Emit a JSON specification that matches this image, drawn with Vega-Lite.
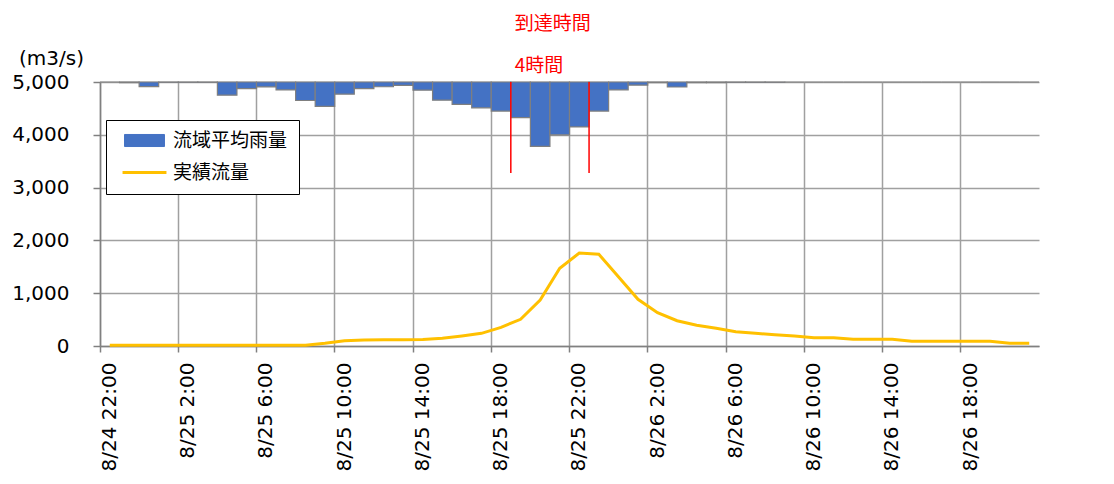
{
  "$schema": "https://vega.github.io/schema/vega-lite/v6.json",
  "width": 939,
  "height": 264,
  "autosize": "none",
  "padding": {"left": 100, "top": 82, "right": 75, "bottom": 138},
  "background": "white",
  "config": {
    "view": {"stroke": null},
    "font": "DejaVu Sans",
    "axis": {"labelFont": "DejaVu Sans", "titleFont": "DejaVu Sans", "labelColor": "#000000", "titleColor": "#000000"},
    "legend": {
      "orient": "none", "legendX": 6, "legendY": 38,
      "padding": 11,
      "fillColor": "white", "strokeColor": "black",
      "labelFont": "Noto Sans CJK JP", "labelFontSize": 19, "labelColor": "#000000",
      "symbolSize": 324, "symbolOffset": 18, "labelOffset": 19,
      "rowPadding": 12,
      "symbolOpacity": 1,
      "symbolType": {"expr": "datum.value === '実績流量' ? 'M-2.44,0H2.44' : 'M-2.22,-0.67H2.22V0.67H-2.22Z'"},
      "symbolStrokeWidth": {"expr": "datum.value === '実績流量' ? 3 : 1"}
    }
  },
  "datasets": {
    "hourly": [
      {"time": "8/24 22:00", "rain": 0, "flow": 15},
      {"time": "8/24 23:00", "rain": 0.5, "flow": 15},
      {"time": "8/25 0:00", "rain": 3.5, "flow": 15},
      {"time": "8/25 1:00", "rain": 0.2, "flow": 15},
      {"time": "8/25 2:00", "rain": 0.2, "flow": 15},
      {"time": "8/25 3:00", "rain": 0.2, "flow": 15},
      {"time": "8/25 4:00", "rain": 10, "flow": 15},
      {"time": "8/25 5:00", "rain": 5, "flow": 15},
      {"time": "8/25 6:00", "rain": 3.7, "flow": 15},
      {"time": "8/25 7:00", "rain": 6, "flow": 15},
      {"time": "8/25 8:00", "rain": 14, "flow": 15},
      {"time": "8/25 9:00", "rain": 18.4, "flow": 53},
      {"time": "8/25 10:00", "rain": 9.2, "flow": 100},
      {"time": "8/25 11:00", "rain": 5, "flow": 114},
      {"time": "8/25 12:00", "rain": 3.6, "flow": 120},
      {"time": "8/25 13:00", "rain": 2.6, "flow": 120},
      {"time": "8/25 14:00", "rain": 6.2, "flow": 125},
      {"time": "8/25 15:00", "rain": 13.8, "flow": 146},
      {"time": "8/25 16:00", "rain": 17, "flow": 189},
      {"time": "8/25 17:00", "rain": 19.6, "flow": 240},
      {"time": "8/25 18:00", "rain": 22, "flow": 354},
      {"time": "8/25 19:00", "rain": 27, "flow": 506},
      {"time": "8/25 20:00", "rain": 48.8, "flow": 871},
      {"time": "8/25 21:00", "rain": 40, "flow": 1472},
      {"time": "8/25 22:00", "rain": 34, "flow": 1761},
      {"time": "8/25 23:00", "rain": 22, "flow": 1737},
      {"time": "8/26 0:00", "rain": 6, "flow": 1312},
      {"time": "8/26 1:00", "rain": 2.4, "flow": 884},
      {"time": "8/26 2:00", "rain": 0.5, "flow": 631},
      {"time": "8/26 3:00", "rain": 3.8, "flow": 479},
      {"time": "8/26 4:00", "rain": 0.5, "flow": 392},
      {"time": "8/26 5:00", "rain": 0.5, "flow": 335},
      {"time": "8/26 6:00", "rain": 0.2, "flow": 271},
      {"time": "8/26 7:00", "rain": 0.2, "flow": 240},
      {"time": "8/26 8:00", "rain": 0.2, "flow": 214},
      {"time": "8/26 9:00", "rain": 0, "flow": 189},
      {"time": "8/26 10:00", "rain": 0, "flow": 157},
      {"time": "8/26 11:00", "rain": 0, "flow": 157},
      {"time": "8/26 12:00", "rain": 0, "flow": 127},
      {"time": "8/26 13:00", "rain": 0, "flow": 127},
      {"time": "8/26 14:00", "rain": 0, "flow": 127},
      {"time": "8/26 15:00", "rain": 0, "flow": 89},
      {"time": "8/26 16:00", "rain": 0, "flow": 89},
      {"time": "8/26 17:00", "rain": 0, "flow": 89},
      {"time": "8/26 18:00", "rain": 0, "flow": 89},
      {"time": "8/26 19:00", "rain": 0, "flow": 89},
      {"time": "8/26 20:00", "rain": 0, "flow": 51},
      {"time": "8/26 21:00", "rain": 0, "flow": 51}
    ],
    "arrival": [
      {"time": "8/25 19:00", "from": 0, "to": 69},
      {"time": "8/25 23:00", "from": 0, "to": 69}
    ],
    "labels": [
      {"time": "8/25 19:00", "label": "4時間"},
      {"time": "8/25 19:00", "label": "到達時間"}
    ]
  },
  "layer": [
    {
      "layer": [
        {
          "data": {"name": "hourly"},
          "mark": {"type": "bar", "stroke": "#7f7f7f", "strokeWidth": 1.2},
          "encoding": {
            "x": {
              "field": "time", "type": "ordinal", "sort": null,
              "scale": {"paddingInner": 0, "paddingOuter": 0},
              "axis": {
                "values": ["8/24 22:00", "8/25 2:00", "8/25 6:00", "8/25 10:00", "8/25 14:00", "8/25 18:00", "8/25 22:00", "8/26 2:00", "8/26 6:00", "8/26 10:00", "8/26 14:00", "8/26 18:00"],
                "bandPosition": 0,
                "grid": true, "gridColor": "#a0a0a0", "gridWidth": 1.5,
                "domainColor": "#808080", "domainWidth": 1.5,
                "tickColor": "#808080", "tickSize": 6, "tickWidth": 1.5,
                "labelAngle": -90, "labelFontSize": 20, "labelPadding": 10,
                "title": null
              }
            },
            "y": {
              "field": "rain", "type": "quantitative",
              "scale": {"domain": [0, 200], "reverse": true},
              "axis": {
                "orient": "right",
                "values": [0, 20, 40, 60, 80, 100, 120, 140, 160, 180, 200],
                "grid": false,
                "domainColor": "#808080", "domainWidth": 1.5,
                "tickColor": "#808080", "tickSize": 6, "tickWidth": 1.5,
                "labelFontSize": 19, "labelPadding": 19,
                "title": "(mm)", "titleAngle": 0, "titleX": 43, "titleY": -21,
                "titleAlign": "center", "titleBaseline": "middle",
                "titleFontSize": 16, "titleFontWeight": "normal"
              }
            },
            "color": {
              "datum": "流域平均雨量",
              "scale": {"domain": ["流域平均雨量", "実績流量"], "range": ["#4472C4", "#FFC000"]},
              "legend": {"title": null}
            }
          }
        },
        {
          "data": {"name": "arrival"},
          "mark": {"type": "rule", "color": "#FF0000", "strokeWidth": 1.5},
          "encoding": {
            "x": {"field": "time", "type": "ordinal", "sort": null, "bandPosition": 0},
            "y": {"field": "from", "type": "quantitative", "axis": null},
            "y2": {"field": "to"}
          }
        },
        {
          "data": {"name": "labels"},
          "transform": [{"filter": "datum.label === '4時間'"}],
          "mark": {"type": "text", "color": "#FF0000", "font": "Noto Sans CJK JP", "fontSize": 19, "align": "left", "baseline": "middle", "dx": 4, "dy": -16},
          "encoding": {
            "x": {"field": "time", "type": "ordinal", "sort": null, "bandPosition": 0},
            "y": {"datum": 0},
            "text": {"field": "label"}
          }
        },
        {
          "data": {"name": "labels"},
          "transform": [{"filter": "datum.label === '到達時間'"}],
          "mark": {"type": "text", "color": "#FF0000", "font": "Noto Sans CJK JP", "fontSize": 19, "align": "left", "baseline": "middle", "dx": 4, "dy": -58},
          "encoding": {
            "x": {"field": "time", "type": "ordinal", "sort": null, "bandPosition": 0},
            "y": {"datum": 0},
            "text": {"field": "label"}
          }
        },
        {
          "mark": {"type": "rule", "color": "#000000", "strokeWidth": 1.5},
          "encoding": {"y": {"datum": 0}}
        }
      ]
    },
    {
      "data": {"name": "hourly"},
      "mark": {"type": "line", "strokeWidth": 3},
      "encoding": {
        "x": {"field": "time", "type": "ordinal", "sort": null},
        "y": {
          "field": "flow", "type": "quantitative",
          "scale": {"domain": [0, 5000]},
          "axis": {
            "orient": "left",
            "values": [0, 1000, 2000, 3000, 4000, 5000],
            "format": ",.0f",
            "grid": true, "gridColor": "#a0a0a0", "gridWidth": 1.5,
            "domainColor": "#808080", "domainWidth": 1.5,
            "tickColor": "#808080", "tickSize": 7, "tickWidth": 1.5,
            "labelFontSize": 20, "labelPadding": 24,
            "title": "(m3/s)", "titleAngle": 0, "titleX": -49, "titleY": -24,
            "titleAlign": "center", "titleBaseline": "middle",
            "titleFontSize": 20, "titleFontWeight": "normal"
          }
        },
        "color": {"datum": "実績流量", "legend": {"title": null}}
      }
    }
  ],
  "resolve": {"scale": {"y": "independent"}}
}
